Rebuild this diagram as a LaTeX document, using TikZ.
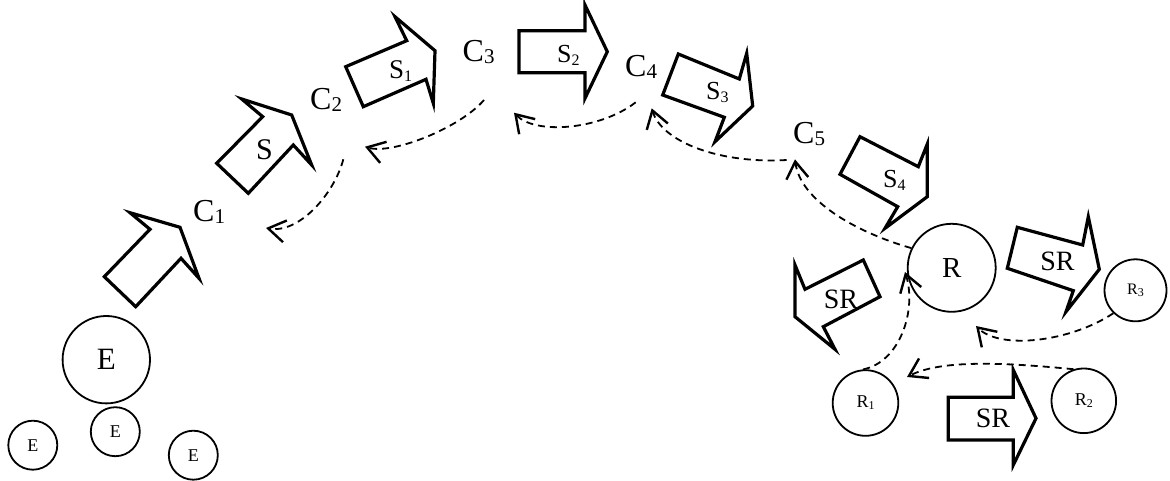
\documentclass[tikz,border=0pt]{standalone}
\usepackage{fontspec}
\setmainfont{Liberation Serif}
\usetikzlibrary{arrows.meta}
\newcommand{\lowsub}[3]{\raisebox{-#2}{\fontsize{#1}{#1}\selectfont #3}}
\begin{document}
\begin{tikzpicture}[x=1pt,y=-1pt,
  blockarrow/.style={draw=black, line width=3.2pt, line join=miter, miter limit=10},
  circ/.style={draw, circle, line width=1.8pt, inner sep=0pt},
  lbl/.style={inner sep=0pt, anchor=base west},
  clbl/.style={inner sep=0pt, anchor=base},
  conn/.style={line width=1.8pt, dash pattern=on 7pt off 5pt,
    -{Straight Barb[length=17pt,width=22pt,line width=2.4pt]}}]
\useasboundingbox (0,0) rectangle (1170,481);

% circles
\node[circ, minimum size=87.4pt, font=\fontsize{31}{31}\selectfont] (E) at (106.3,359.7) {E};
\node[circ, minimum size=49pt, font=\fontsize{18}{18}\selectfont] (e1) at (32.8,445.2) {E};
\node[circ, minimum size=49pt, font=\fontsize{18}{18}\selectfont] (e2) at (115.3,431.7) {E};
\node[circ, minimum size=49pt, font=\fontsize{18}{18}\selectfont] (e3) at (193.3,455.2) {E};
\node[circ, minimum size=88pt, font=\fontsize{29}{29}\selectfont] (R) at (951.7,267.8) {R};
\node[circ, minimum size=65.6pt, font=\fontsize{18}{18}\selectfont] (R1) at (865.5,403) {R\lowsub{12}{2pt}{1}};
\node[circ, minimum size=64.6pt, font=\fontsize{18}{18}\selectfont] (R2) at (1083.8,400.8) {R\lowsub{12}{2pt}{2}};
\node[circ, minimum size=62pt, font=\fontsize{16}{16}\selectfont] (R3) at (1135.5,290.3) {R\lowsub{12}{2pt}{3}};

% block arrows
\draw[blockarrow] (104.3,276.7) -- (150,229.3) -- (130,212.7) -- (180,227.3) -- (199,278.3) -- (181,258.3) -- (135.7,306.7) -- cycle;
\draw[blockarrow] (216.7,163.3) -- (262.7,116.7) -- (241.7,99) -- (291.7,115) -- (311.7,165) -- (293.3,145) -- (248.3,193.3) -- cycle;
\draw[blockarrow] (345.7,66.7) -- (406.7,40.7) -- (395,16.7) -- (435,50.7) -- (433.3,103.3) -- (426,79.3) -- (363.3,106.7) -- cycle;
\draw[blockarrow] (519,30.7) -- (585,30.7) -- (585,5) -- (607.3,51.7) -- (585,98.3) -- (585,72.7) -- (519,72.7) -- cycle;
\draw[blockarrow] (678.3,54) -- (739.3,79) -- (746.7,53.3) -- (752.7,106) -- (715,141.7) -- (724.3,117.3) -- (662.7,95) -- cycle;
\draw[blockarrow] (860,136.7) -- (918.3,166.7) -- (927.3,144) -- (927.3,196.7) -- (885,228.3) -- (897.7,206.7) -- (840,174.3) -- cycle;
\draw[blockarrow] (1017.3,227.3) -- (1082.7,245) -- (1088.3,216.7) -- (1099.3,269.3) -- (1066,311.7) -- (1073.3,290.7) -- (1007.3,268.3) -- cycle;
\draw[blockarrow] (863.3,260) -- (805,289.3) -- (795,265) -- (795,316.7) -- (835,349.3) -- (823.3,326.7) -- (880,296.7) -- cycle;
\draw[blockarrow] (948.3,397.3) -- (1013.3,397.3) -- (1013.3,370) -- (1036,418.3) -- (1013.3,465) -- (1013.3,440) -- (948.3,440) -- cycle;

% arrow labels
\node[lbl, font=\fontsize{30}{30}\selectfont] (lS) at (256,160) {S};
\node[lbl, font=\fontsize{27}{27}\selectfont] (lS1) at (389,79) {S\lowsub{16}{3pt}{1}};
\node[lbl, font=\fontsize{26}{26}\selectfont] (lS2) at (557,63) {S\lowsub{16}{3pt}{2}};
\node[lbl, font=\fontsize{26}{26}\selectfont] (lS3) at (706,100) {S\lowsub{16}{3pt}{3}};
\node[lbl, font=\fontsize{26}{26}\selectfont] (lS4) at (883,188) {S\lowsub{16}{3pt}{4}};
\node[clbl, font=\fontsize{28}{28}\selectfont] (lSRr) at (1057.5,270) {SR};
\node[clbl, font=\fontsize{28}{28}\selectfont] (lSRl) at (841,308) {SR};
\node[clbl, font=\fontsize{28}{28}\selectfont] (lSRb) at (993,427) {SR};

% C labels
\node[lbl, font=\fontsize{32}{32}\selectfont] (C1) at (193,221.5) {C\lowsub{21}{2pt}{1}};
\node[lbl, font=\fontsize{32}{32}\selectfont] (C2) at (310,110) {C\lowsub{21}{2pt}{2}};
\node[lbl, font=\fontsize{32}{32}\selectfont] (C3) at (462.5,61.5) {C\lowsub{21}{2pt}{3}};
\node[lbl, font=\fontsize{32}{32}\selectfont] (C4) at (625,76.5) {C\lowsub{21}{2pt}{4}};
\node[lbl, font=\fontsize{32}{32}\selectfont] (C5) at (793,144) {C\lowsub{21}{2pt}{5}};

% connector ends
\coordinate (s1) at (343.3,159.3); \coordinate (t1) at (266,228);
\coordinate (s2) at (484,100);     \coordinate (t2) at (365,146.7);
\coordinate (s3) at (635.7,102.3); \coordinate (t3) at (514,112.7);
\coordinate (s4) at (786.7,160);   \coordinate (t4) at (651.7,108.3);
\coordinate (t5) at (795,159.3);
\coordinate (t6) at (905,272);
\coordinate (t7) at (907,377);
\coordinate (t8) at (976,326);

% dashed connectors
\draw[conn] (s1) .. controls (335,192) and (300,234) .. (t1);
\draw[conn] (s2) .. controls (460,128) and (392,155) .. (t2);
\draw[conn] (s3) .. controls (600,130) and (535,135) .. (t3);
\draw[conn] (s4) .. controls (720,164) and (662,142) .. (t4);
\draw[conn] (R.154) .. controls (855,232) and (800,200) .. (t5);
\draw[conn] (R1.94) .. controls (900,362) and (917,310) .. (t6);
\draw[conn] (R2.108) .. controls (1000,362) and (940,360) .. (t7);
\draw[conn] (R3.226) .. controls (1070,342) and (1000,350) .. (t8);
\end{tikzpicture}
\end{document}
